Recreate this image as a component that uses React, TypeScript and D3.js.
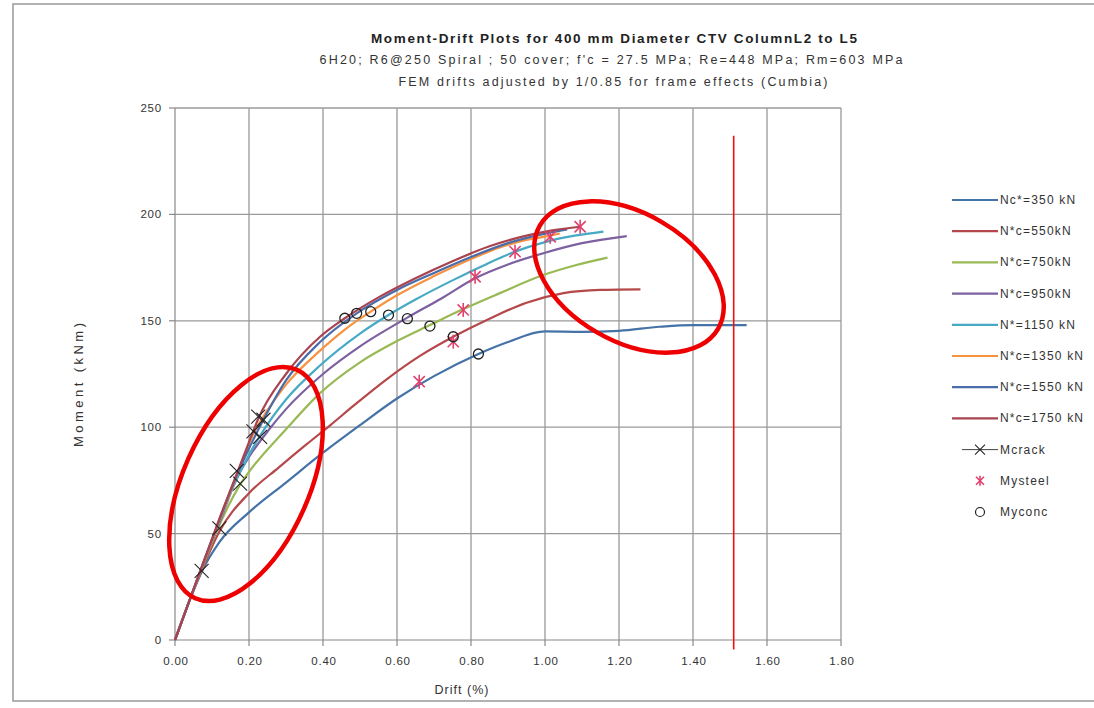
import React from "react";
import * as d3 from "d3";

// series names (legend order)
const seriesNames = [
  "Nc*=350 kN",
  "N*c=550kN",
  "N*c=750kN",
  "N*c=950kN",
  "N*=1150 kN",
  "N*c=1350 kN",
  "N*c=1550 kN",
  "N*c=1750 kN",
];
const seriesColors = ["#4572a7", "#b5484a", "#98b954", "#7d60a0", "#46aac5", "#f69240", "#4a6ca8", "#a8434f"];

// moment-drift curves, [drift %, moment kNm]
const n350 = [[0, 0], [0.04, 18.8], [0.072, 32], [0.12, 46], [0.2, 60], [0.3, 74], [0.4, 88], [0.5, 101], [0.6, 113.5], [0.7, 124], [0.82, 134.4], [0.9, 140], [1.0, 145], [1.1, 144.8], [1.2, 145.3], [1.31, 147.2], [1.4, 148], [1.545, 148]];
const n550 = [[0, 0], [0.04, 19], [0.08, 36], [0.12, 51], [0.2, 69], [0.28, 81], [0.356, 92], [0.42, 101], [0.482, 110], [0.572, 122.5], [0.662, 133.5], [0.752, 142.5], [0.85, 151], [0.95, 158.5], [1.05, 163], [1.15, 164.5], [1.258, 164.8]];
const n750 = [[0, 0], [0.04, 19], [0.08, 37], [0.12, 54], [0.176, 73], [0.2, 79], [0.3, 99], [0.392, 116], [0.5, 130.5], [0.6, 140.5], [0.689, 148], [0.779, 155.5], [0.878, 163], [0.995, 171.5], [1.08, 176], [1.169, 179.7]];
const n950 = [[0, 0], [0.04, 19], [0.08, 37.5], [0.12, 55], [0.167, 76], [0.2, 86], [0.25, 98], [0.3, 108.5], [0.4, 125], [0.5, 138], [0.628, 151.5], [0.72, 160.5], [0.811, 170], [0.9, 176.5], [1.0, 182], [1.1, 186.5], [1.221, 189.8]];
const n1150 = [[0, 0], [0.04, 19], [0.08, 37.5], [0.12, 56], [0.16, 73], [0.2, 87], [0.23, 96], [0.3, 113], [0.392, 129], [0.5, 144], [0.577, 152.7], [0.65, 160], [0.75, 169], [0.84, 176.5], [0.919, 182.5], [1.0, 187], [1.08, 190], [1.158, 191.9]];
const n1350 = [[0, 0], [0.04, 19], [0.08, 37.5], [0.12, 56], [0.16, 74], [0.212, 97], [0.25, 108], [0.3, 120], [0.392, 136], [0.46, 146], [0.529, 154.3], [0.6, 162], [0.7, 171], [0.8, 179], [0.878, 184.5], [0.95, 188], [1.014, 190], [1.04, 191]];
const n1550 = [[0, 0], [0.04, 19], [0.08, 38], [0.12, 56.5], [0.16, 74.5], [0.2, 90], [0.239, 103.5], [0.3, 122], [0.392, 140], [0.491, 153.5], [0.6, 164.5], [0.7, 172.5], [0.8, 180], [0.9, 186.5], [1.0, 191], [1.06, 193]];
const n1750 = [[0, 0], [0.04, 19], [0.08, 38], [0.12, 57], [0.16, 75], [0.2, 93], [0.225, 104], [0.3, 125], [0.392, 142.5], [0.459, 151.2], [0.55, 161], [0.65, 170], [0.75, 178], [0.85, 185], [0.95, 190], [1.02, 192.5], [1.095, 194.2]];
const curves = [n350, n550, n750, n950, n1150, n1350, n1550, n1750];

// marker series
const mcrack = [[0.072, 32.5], [0.12, 52.5], [0.176, 73.5], [0.167, 79.5], [0.23, 95.5], [0.212, 98], [0.239, 103.5], [0.225, 105]];
const mysteel = [[0.66, 121.4], [0.752, 140.2], [0.779, 155.1], [0.811, 170.7], [0.919, 182.5], [1.014, 189.5], [1.095, 194.2]];
const myconc = [[0.459, 151.2], [0.491, 153.5], [0.529, 154.3], [0.577, 152.7], [0.628, 151], [0.689, 147.5], [0.752, 142.5], [0.82, 134.4]];

const xTicks = [0, 0.2, 0.4, 0.6, 0.8, 1.0, 1.2, 1.4, 1.6, 1.8];
const yTicks = [0, 50, 100, 150, 200, 250];
const limitDrift = 1.51; // red vertical line

const titleLines = [
  "Moment-Drift Plots for 400 mm Diameter CTV ColumnL2 to L5",
  "6H20; R6@250 Spiral ;  50 cover; f'c = 27.5 MPa;  Re=448 MPa;  Rm=603 MPa",
  "FEM drifts adjusted by 1/0.85 for frame effects (Cumbia)",
];

const font = "'Liberation Sans', Arial, sans-serif";

function Cross({ x, y, s = 7, color = "#222" }) {
  return (
    <g stroke={color} strokeWidth={1.1}>
      <line x1={x - s} y1={y - s} x2={x + s} y2={y + s} />
      <line x1={x - s} y1={y + s} x2={x + s} y2={y - s} />
    </g>
  );
}

function Star({ x, y, s = 7, color = "#e0406e" }) {
  return (
    <g stroke={color} strokeWidth={1.6}>
      <line x1={x - s * 0.8} y1={y - s * 0.8} x2={x + s * 0.8} y2={y + s * 0.8} />
      <line x1={x - s * 0.8} y1={y + s * 0.8} x2={x + s * 0.8} y2={y - s * 0.8} />
      <line x1={x} y1={y - s} x2={x} y2={y + s} />
    </g>
  );
}

export default function App() {
  const x = d3.scaleLinear().domain([0, 1.8]).range([175, 841]);
  const y = d3.scaleLinear().domain([0, 250]).range([640, 108]);
  const line = d3
    .line<number[]>()
    .x((d) => x(d[0]))
    .y((d) => y(d[1]))
    .curve(d3.curveMonotoneX);

  const legendY = (i: number) => 200 + i * 31.2;

  return (
    <svg width={1094} height={708} style={{ position: "absolute", left: 0, top: 0, background: "#fff" }} fontFamily={font}>
      {/* chart frame */}
      <rect x={13} y={4} width={1100} height={697} fill="#fff" stroke="#999" strokeWidth={1.5} />

      {/* titles */}
      <text x={614} y={43} textAnchor="middle" fontSize={13.5} fontWeight="bold" fill="#222" textLength={486}>
        {titleLines[0]}
      </text>
      <text x={611} y={64} textAnchor="middle" fontSize={12.5} fill="#333" textLength={583}>
        {titleLines[1]}
      </text>
      <text x={613} y={86} textAnchor="middle" fontSize={12.5} fill="#333" textLength={429}>
        {titleLines[2]}
      </text>

      {/* grid */}
      <g stroke="#9a9a9a" strokeWidth={1.3}>
        {xTicks.slice(1).map((t) => (
          <line key={"gx" + t} x1={x(t)} x2={x(t)} y1={y(250)} y2={y(0)} />
        ))}
        {yTicks.slice(1).map((t) => (
          <line key={"gy" + t} x1={x(0)} x2={x(1.8)} y1={y(t)} y2={y(t)} />
        ))}
      </g>

      {/* axes */}
      <g stroke="#888" strokeWidth={1.2}>
        <line x1={x(0)} x2={x(0)} y1={y(250)} y2={y(0)} />
        <line x1={x(0)} x2={x(1.8)} y1={y(0)} y2={y(0)} />
        {yTicks.map((t) => (
          <line key={"ty" + t} x1={x(0) - 6} x2={x(0)} y1={y(t)} y2={y(t)} />
        ))}
        {xTicks.map((t) => (
          <line key={"tx" + t} x1={x(t)} x2={x(t)} y1={y(0)} y2={y(0) + 6} />
        ))}
      </g>
      <g fontSize={11.5} fill="#333" letterSpacing={0.8}>
        {yTicks.map((t) => (
          <text key={"ly" + t} x={x(0) - 13} y={y(t) + 4} textAnchor="end">
            {t}
          </text>
        ))}
        {xTicks.map((t) => (
          <text key={"lx" + t} x={x(t) + 1} y={y(0) + 25} textAnchor="middle">
            {t.toFixed(2)}
          </text>
        ))}
      </g>
      <text x={462} y={694} textAnchor="middle" fontSize={12.5} fill="#333" letterSpacing={1}>
        Drift (%)
      </text>
      <text
        transform="translate(83,385) rotate(-90)"
        textAnchor="middle"
        fontSize={13}
        fill="#333"
        textLength={124}
      >
        Moment  (kNm)
      </text>

      {/* curves */}
      <g fill="none" strokeWidth={2.2} strokeLinejoin="round">
        {curves.map((c, i) => (
          <path key={"c" + i} d={line(c) || ""} stroke={seriesColors[i]} />
        ))}
      </g>

      {/* markers */}
      {mcrack.map((p, i) => (
        <Cross key={"mc" + i} x={x(p[0])} y={y(p[1])} />
      ))}
      {mysteel.map((p, i) => (
        <Star key={"ms" + i} x={x(p[0])} y={y(p[1])} />
      ))}
      {myconc.map((p, i) => (
        <circle key={"mo" + i} cx={x(p[0])} cy={y(p[1])} r={5} fill="none" stroke="#222" strokeWidth={1.3} />
      ))}

      {/* limit line */}
      <line x1={x(limitDrift)} x2={x(limitDrift)} y1={y(237)} y2={y(-4.5)} stroke="#ee1111" strokeWidth={1.6} />

      {/* red annotation ellipses */}
      <ellipse cx={246} cy={484} rx={63} ry={125} transform="rotate(24 246 484)" fill="none" stroke="#ee0000" strokeWidth={4.5} />
      <ellipse cx={629} cy={277} rx={103} ry={64} transform="rotate(30 629 277)" fill="none" stroke="#ee0000" strokeWidth={4.5} />

      {/* legend */}
      <g fontSize={12} fill="#333" letterSpacing={1.2}>
        {seriesNames.map((n, i) => (
          <g key={"lg" + i}>
            <line x1={952} x2={998} y1={legendY(i)} y2={legendY(i)} stroke={seriesColors[i]} strokeWidth={2.2} />
            <text x={1000} y={legendY(i) + 4}>
              {n}
            </text>
          </g>
        ))}
        <line x1={962} x2={998} y1={legendY(8)} y2={legendY(8)} stroke="#444" strokeWidth={1} />
        <Cross x={980} y={legendY(8)} s={5} />
        <text x={1000} y={legendY(8) + 4}>Mcrack</text>
        <Star x={980} y={legendY(9)} s={5} />
        <text x={1000} y={legendY(9) + 4}>Mysteel</text>
        <circle cx={980} cy={legendY(10)} r={4.5} fill="none" stroke="#222" strokeWidth={1.2} />
        <text x={1000} y={legendY(10) + 4}>Myconc</text>
      </g>
    </svg>
  );
}
